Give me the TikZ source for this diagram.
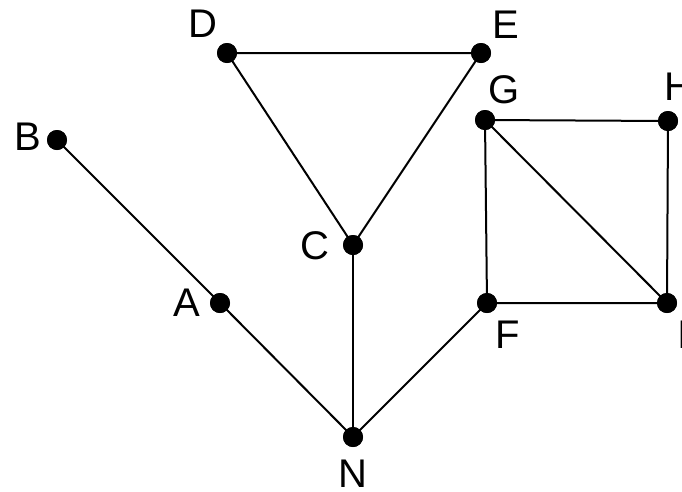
\documentclass[tikz,border=0pt]{standalone}
\usepackage{fontspec}
\setmainfont{Liberation Sans}
\begin{document}
\begin{tikzpicture}[x=1pt,y=-1pt,
  vtx/.style={circle,fill=black,inner sep=0pt,minimum size=20pt},
  lbl/.style={inner sep=0pt,font=\fontsize{40}{40}\selectfont},
  edge/.style={line width=2pt}]
\useasboundingbox (0,0) rectangle (682,491);
\node[vtx] (D) at (227,53) {};
\node[vtx] (E) at (481,53) {};
\node[vtx] (B) at (57,140) {};
\node[vtx] (G) at (485,120) {};
\node[vtx] (H) at (668,121) {};
\node[vtx] (C) at (353,245) {};
\node[vtx] (A) at (220,303) {};
\node[vtx] (F) at (487,303) {};
\node[vtx] (I) at (667,303) {};
\node[vtx] (N) at (353,437) {};
\node[lbl] (lD) at (203,24) {D};
\node[lbl] (lE) at (506,25) {E};
\node[lbl] (lB) at (28,137) {B};
\node[lbl] (lG) at (504,90) {G};
\node[lbl] (lH) at (679,87) {H};
\node[lbl] (lC) at (315,246) {C};
\node[lbl] (lA) at (187,303) {A};
\node[lbl] (lF) at (508,335) {F};
\node[lbl] (lI) at (683,335) {I};
\node[lbl] (lN) at (353,474) {N};
\draw[edge] (D.center) -- (E.center) -- (C.center) -- (D.center);
\draw[edge] (C.center) -- (N.center);
\draw[edge] (B.center) -- (A.center) -- (N.center) -- (F.center);
\draw[edge] (G.center) -- (H.center) -- (I.center) -- (F.center) -- (G.center) -- (I.center);
\foreach \v in {D,E,B,G,H,C,A,F,I,N} \fill (\v) circle (10pt);
\end{tikzpicture}
\end{document}
